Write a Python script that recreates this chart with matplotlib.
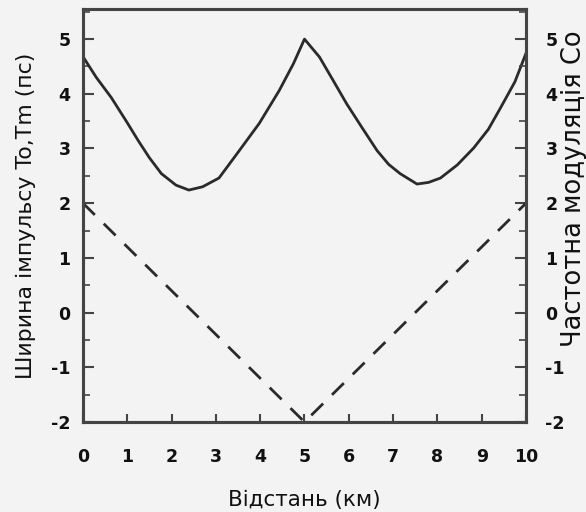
import matplotlib
matplotlib.use('Agg')
import matplotlib.pyplot as plt
from matplotlib.ticker import MultipleLocator

# Data
distance_km = [0, 0.3, 0.64, 1.0, 1.25, 1.5, 1.77, 2.1, 2.39, 2.7, 3.07, 3.5, 3.98,
               4.43, 4.75, 5.0, 5.34, 5.65, 5.95, 6.3, 6.64, 6.9, 7.16, 7.54, 7.8,
               8.07, 8.45, 8.82, 9.15, 9.43, 9.75, 10]
pulse_width_ps = [4.68, 4.30, 3.93, 3.47, 3.14, 2.83, 2.54, 2.33, 2.24, 2.30, 2.46, 2.93, 3.46,
                  4.06, 4.55, 5.0, 4.67, 4.24, 3.82, 3.38, 2.96, 2.71, 2.54, 2.35, 2.38,
                  2.46, 2.70, 3.01, 3.35, 3.75, 4.22, 4.74]
chirp_distance_km = [0, 5, 10]
chirp_c = [2, -2, 2]

x_ticks = [0, 1, 2, 3, 4, 5, 6, 7, 8, 9, 10]
y_ticks = [-2, -1, 0, 1, 2, 3, 4, 5]

plt.rcParams['font.family'] = ['DejaVu Sans']
plt.rcParams['axes.unicode_minus'] = False

bg = '#f3f3f3'
ink = '#2a2a2a'
fig = plt.figure(figsize=(5.86, 5.12), dpi=100, facecolor=bg)
ax = fig.add_axes([0.1416, 0.1758, 0.756, 0.8066])
ax.set_facecolor(bg)
ax2 = ax.twinx()

ax.plot(distance_km, pulse_width_ps, color=ink, lw=2.0, solid_joinstyle='round')
ax2.plot(chirp_distance_km, chirp_c, color=ink, lw=2.0, dashes=(6, 4.5))

for a in (ax, ax2):
    a.set_xlim(0, 10)
    a.set_ylim(-2, 5.55)
    a.set_yticks(y_ticks)
    a.yaxis.set_minor_locator(MultipleLocator(0.5))
    for s in a.spines.values():
        s.set_linewidth(2.2)
        s.set_color('#444444')

ax.set_xticks(x_ticks)
ax.tick_params(axis='x', direction='in', length=6, width=1.5, color='#444444',
               pad=19, labelsize=12.5)
ax.tick_params(axis='y', which='major', direction='in', length=8, width=1.5,
               color='#444444', pad=9, labelsize=12.5)
ax.tick_params(axis='y', which='minor', direction='in', length=5, width=1.2,
               color='#444444')
ax2.tick_params(axis='y', which='major', direction='in', length=8, width=1.5,
                color='#444444', pad=14, labelsize=12.5)
ax2.tick_params(axis='y', which='minor', direction='in', length=5, width=1.2,
                color='#444444')

for lbl in ax.get_xticklabels() + ax.get_yticklabels() + ax2.get_yticklabels():
    lbl.set_fontweight('bold')
    lbl.set_color('#111111')

ax.set_xlabel('Відстань (км)', fontsize=15.5, labelpad=17, color='#111111')
ax.set_ylabel('Ширина імпульсу To,Tm (пс)', fontsize=15.8, color='#111111')
ax2.set_ylabel('Частотна модуляція Co', fontsize=18.5, color='#111111')
ax.yaxis.set_label_coords(-0.105, 0.5)
ax2.yaxis.set_label_coords(1.078, 0.565)

fig.savefig('out.png', dpi=100, facecolor=bg)
